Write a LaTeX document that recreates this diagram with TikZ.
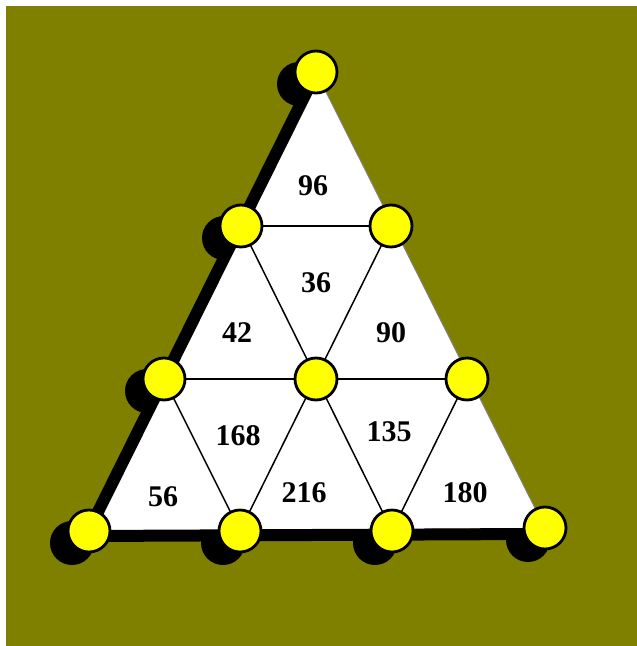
\documentclass[tikz,border=0pt]{standalone}
\usepackage{fontspec}
\setmainfont{Liberation Serif}
\definecolor{olivebg}{HTML}{7F7F00}
\definecolor{dotyellow}{HTML}{FFFF00}
\tikzset{
  dot/.style={circle,draw=black,line width=2.8pt,fill=dotyellow,minimum size=42pt,inner sep=0pt},
  dotshadow/.style={fill=black},
  grid/.style={draw=black,line width=1.5pt},
  num/.style={font=\fontsize{30}{30}\selectfont\bfseries,text=black}
}
\begin{document}
\begin{tikzpicture}[x=1pt,y=-1pt]
\useasboundingbox (0,0) rectangle (637,646);
\fill[white] (0,0) rectangle (637,646);
\fill[olivebg] (6,6) rectangle (637,646);
% vertices
\coordinate (a) at (316,72);
\coordinate (b1) at (241,226);
\coordinate (b2) at (391,226);
\coordinate (c1) at (164,379);
\coordinate (c2) at (316,379);
\coordinate (c3) at (467,379);
\coordinate (d1) at (89,531);
\coordinate (d2) at (240,531);
\coordinate (d3) at (392,531);
\coordinate (d4) at (545,528);
% shadows of the dots
\foreach \p in {a,b1,b2,c1,c2,c3,d1,d2,d3,d4}{
  \fill[dotshadow] ([shift={(-17,12)}]\p) circle (22);
}
% white triangle
\fill[white] (a) -- (d1) -- (d4) -- cycle;
\draw[gray,line width=1pt] (a) -- (d4);
% thick black left and bottom edges
\draw[black,line width=12pt] ([shift={(-1,3)}]a) -- ([shift={(-3,5)}]d1) -- ([shift={(-10,6)}]d4);
% inner grid
\draw[grid] (b1) -- (b2);
\draw[grid] (c1) -- (c3);
\draw[grid] (b1) -- (d3);
\draw[grid] (b2) -- (d2);
\draw[grid] (c1) -- (d2);
\draw[grid] (c3) -- (d3);
% dots
\foreach \p in {a,b1,b2,c1,c2,c3,d1,d2,d3,d4}{
  \node[dot] (n\p) at (\p) {};
}
% numbers
\node[num] (t96) at (313,186) {96};
\node[num] (t36) at (316,283) {36};
\node[num] (t42) at (237,333) {42};
\node[num] (t90) at (391,333) {90};
\node[num] (t168) at (238,436) {168};
\node[num] (t135) at (389,432) {135};
\node[num] (t56) at (163,497) {56};
\node[num] (t216) at (304,493) {216};
\node[num] (t180) at (465,493) {180};
\end{tikzpicture}
\end{document}
